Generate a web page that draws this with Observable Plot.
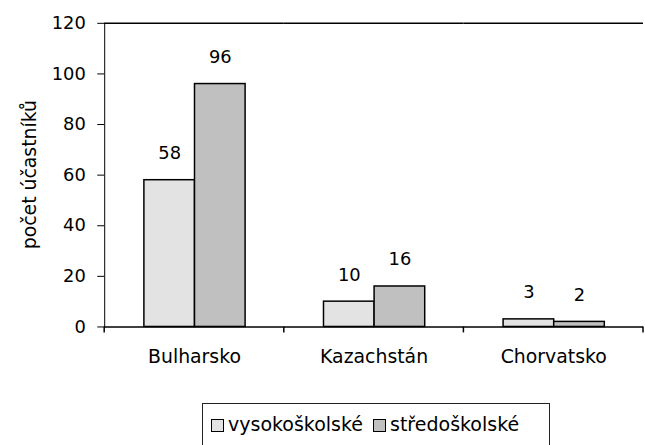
<!DOCTYPE html>
<html>
<head>
<meta charset="utf-8">
<script src="https://cdn.jsdelivr.net/npm/d3@7"></script>
<script src="https://cdn.jsdelivr.net/npm/@observablehq/plot@0.6"></script>
<style>
  html, body { margin: 0; background: #fff; overflow: hidden; font-family: "DejaVu Sans", sans-serif; }
  #wrap { position: relative; width: 645px; height: 445px; overflow: hidden; }
  #legend { position: absolute; left: 202px; top: 403px; width: 348px; height: 46px;
    border: 1.5px solid #222; box-sizing: border-box; font-size: 19px; color: #000;
    padding: 9px 0 0 8px; white-space: nowrap; }
  .sw { display: inline-block; width: 13px; height: 13px; border: 1.5px solid #000; box-sizing: border-box;
    margin-right: 4px; vertical-align: -1px; }
  .item { display: inline-block; margin-right: 10px; }
</style>
</head>
<body>
<div id="wrap">
  <div id="chart"></div>
  <div id="legend"></div>
</div>
<script>
const countries = ["Bulharsko", "Kazachstán", "Chorvatsko"];
const seriesNames = ["vysokoškolské", "středoškolské"];
const vysokoskolske = [58, 10, 3];
const stredoskolske = [96, 16, 2];
const yTicks = [0, 20, 40, 60, 80, 100, 120];
const yLabel = "počet účastníků";
const colors = ["#e3e3e3", "#c0c0c0"];

const data = [];
countries.forEach((c, i) => {
  data.push({country: c, series: seriesNames[0], value: vysokoskolske[i]});
  data.push({country: c, series: seriesNames[1], value: stredoskolske[i]});
});

const plot = Plot.plot({
  width: 650,
  height: 381,
  marginLeft: 104,
  marginRight: 2,
  marginTop: 23,
  marginBottom: 52,
  style: { fontFamily: "DejaVu Sans, sans-serif", fontSize: "18px", color: "#000", background: "#fff", overflow: "visible" },
  fx: { domain: countries, paddingInner: 0, paddingOuter: 0, tickSize: 0, tickPadding: 23, label: null },
  x: { domain: seriesNames, axis: null, paddingInner: 0, paddingOuter: 0.745 },
  y: { domain: [0, 120], ticks: yTicks, tickSize: 7, tickPadding: 12, label: null, line: true },
  color: { domain: seriesNames, range: colors },
  marks: [
    Plot.barY(data, { fx: "country", x: "series", y: "value", fill: "series", stroke: "#000", strokeWidth: 1.5 }),
    Plot.text(data, { fx: "country", x: "series", y: "value", text: d => String(d.value), dy: -27, fontSize: 18, fill: "#000" }),
    Plot.ruleY([0], { stroke: "#000", strokeWidth: 1.5 }),
    Plot.ruleY([120], { stroke: "#000", strokeWidth: 1.5 })
  ]
});
document.getElementById("chart").appendChild(plot);

const fx = plot.scale("fx");
const y = plot.scale("y");
const svg = d3.select(plot);
const y0 = y.apply(0);
// tick marks at category boundaries, from the fx scale
const bounds = countries.map(c => fx.apply(c));
bounds.push(fx.apply(countries[countries.length - 1]) + fx.bandwidth);
svg.append("g").selectAll("line").data(bounds).join("line")
  .attr("x1", d => d).attr("x2", d => d)
  .attr("y1", y0).attr("y2", y0 + 6)
  .attr("stroke", "#000").attr("stroke-width", 1.5);
// bottom axis tick font size
svg.selectAll("[aria-label='fx-axis tick label'] text, [aria-label='fx-axis'] text").attr("font-size", 19);
// y axis title
const yc = (y.apply(yTicks[0]) + y.apply(yTicks[yTicks.length - 1])) / 2;
svg.append("text")
  .attr("transform", `translate(30,${yc}) rotate(-90)`)
  .attr("text-anchor", "middle").attr("dominant-baseline", "central")
  .attr("font-size", 19).attr("fill", "#000")
  .text(yLabel);

const legend = document.getElementById("legend");
seriesNames.forEach((s, i) => {
  const item = document.createElement("span");
  item.className = "item";
  item.innerHTML = `<span class="sw" style="background:${colors[i]}"></span>${s}`;
  legend.appendChild(item);
});
</script>
</body>
</html>
